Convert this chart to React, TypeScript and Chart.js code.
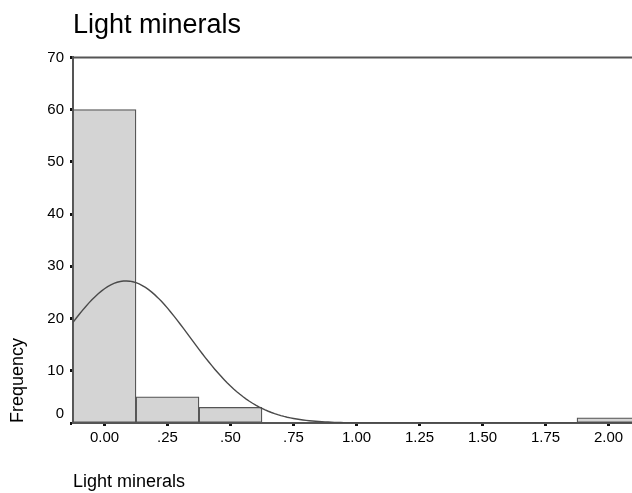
import React, { useEffect, useRef } from "react";
import { Chart, registerables } from "chart.js";

Chart.register(...registerables);

// Histogram bins (bin centres, width 0.25) and their frequencies
const binCenters = [0, 0.25, 0.5, 0.75, 1.0, 1.25, 1.5, 1.75, 2.0];
const binCounts = [60, 5, 3, 0, 0, 0, 0, 0, 1];
const binWidth = 0.25;

// Axis ticks
const xTickValues = [0, 0.25, 0.5, 0.75, 1.0, 1.25, 1.5, 1.75, 2.0];
const xTickLabels = ["0.00", ".25", ".50", ".75", "1.00", "1.25", "1.50", "1.75", "2.00"];
const yTickStep = 10;
const yMax = 70;

// Fitted normal curve parameters
const curveMean = 0.085;
const curveSd = 0.253;
const sampleSize = 69;

const chartTitle = "Light minerals";
const xTitle = "Light minerals";
const yTitle = "Frequency";

const xMin = -0.125;
const xMax = 2.125;

function normalCurvePoints() {
  const pts: { x: number; y: number }[] = [];
  const scale = (sampleSize * binWidth) / (curveSd * Math.sqrt(2 * Math.PI));
  const steps = 180;
  for (let i = 0; i <= steps; i++) {
    const x = xMin + ((xMax - xMin) * i) / steps;
    const z = (x - curveMean) / curveSd;
    pts.push({ x, y: scale * Math.exp(-0.5 * z * z) });
  }
  return pts;
}

const frameColor = "#555555";
const fontFamily = "'Liberation Sans', Arial, sans-serif";

// Top edge of the plot frame (left and bottom come from the axis borders)
const framePlugin = {
  id: "plotFrame",
  afterDatasetsDraw(chart: any) {
    const { ctx, chartArea } = chart;
    ctx.save();
    ctx.strokeStyle = frameColor;
    ctx.lineWidth = 2;
    ctx.beginPath();
    ctx.moveTo(chartArea.left, chartArea.top);
    ctx.lineTo(chartArea.right, chartArea.top);
    ctx.lineTo(chartArea.right, chartArea.bottom);
    ctx.stroke();
    ctx.restore();
  },
};

export default function App() {
  const canvasRef = useRef<HTMLCanvasElement | null>(null);

  useEffect(() => {
    if (!canvasRef.current) return;
    const chart = new Chart(canvasRef.current, {
      type: "bar",
      data: {
        datasets: [
          {
            type: "line",
            order: 0,
            data: normalCurvePoints(),
            borderColor: "#4a4a4a",
            borderWidth: 1.4,
            pointRadius: 0,
            tension: 0,
            fill: false,
          } as any,
          {
            type: "bar",
            order: 1,
            data: binCenters.map((c, i) => ({ x: c, y: binCounts[i] })),
            backgroundColor: "#d4d4d4",
            borderColor: frameColor,
            borderWidth: 1.3,
            borderSkipped: false,
            barPercentage: 1,
            categoryPercentage: 1,
          } as any,
        ],
      },
      options: {
        animation: false,
        responsive: false,
        devicePixelRatio: 1,
        layout: { padding: { left: 0, right: 20, top: 0, bottom: 0 } },
        plugins: {
          legend: { display: false },
          tooltip: { enabled: false },
          title: {
            display: true,
            text: chartTitle,
            align: "start",
            fullSize: false,
            color: "#000",
            font: { family: fontFamily, size: 27, weight: "normal" },
            padding: { top: 9, bottom: 16 },
          },
        },
        scales: {
          x: {
            type: "linear",
            offset: false,
            min: xMin,
            max: xMax,
            afterBuildTicks: (axis: any) => {
              axis.ticks = xTickValues.map((v) => ({ value: v }));
            },
            afterFit: (axis: any) => {
              axis.height = 70;
            },
            ticks: {
              autoSkip: false,
              maxRotation: 0,
              color: "#000",
              padding: 3,
              font: { family: fontFamily, size: 15 },
              callback: (_v: any, i: number) => xTickLabels[i],
            },
            grid: {
              display: true,
              offset: false,
              drawOnChartArea: false,
              drawTicks: true,
              tickLength: 3,
              tickWidth: 3,
              tickColor: "#111",
            },
            border: { display: true, color: frameColor, width: 2 },
            title: {
              display: true,
              text: xTitle,
              align: "start",
              color: "#000",
              font: { family: fontFamily, size: 18 },
              padding: { top: 0, bottom: 0 },
            },
          },
          y: {
            min: 0,
            max: yMax,
            afterFit: (axis: any) => {
              axis.width = 73;
            },
            ticks: {
              stepSize: yTickStep,
              color: "#000",
              padding: 6,
              font: { family: fontFamily, size: 15 },
              callback: (v: any) => (Number(v) === 0 ? ["0", ""] : String(v)),
            },
            grid: {
              display: true,
              drawOnChartArea: false,
              drawTicks: true,
              tickLength: 3,
              tickWidth: 3,
              tickColor: "#111",
            },
            border: { display: true, color: frameColor, width: 2 },
            title: {
              display: true,
              text: yTitle,
              align: "start",
              color: "#000",
              font: { family: fontFamily, size: 18 },
              padding: { top: 7, bottom: 0 },
            },
          },
        },
      },
      plugins: [framePlugin],
    });
    return () => chart.destroy();
  }, []);

  return (
    <div
      style={{
        position: "absolute",
        left: 0,
        top: 0,
        width: 632,
        height: 493,
        overflow: "hidden",
        background: "#fff",
      }}
    >
      <canvas ref={canvasRef} width={660} height={493} style={{ display: "block" }} />
    </div>
  );
}
